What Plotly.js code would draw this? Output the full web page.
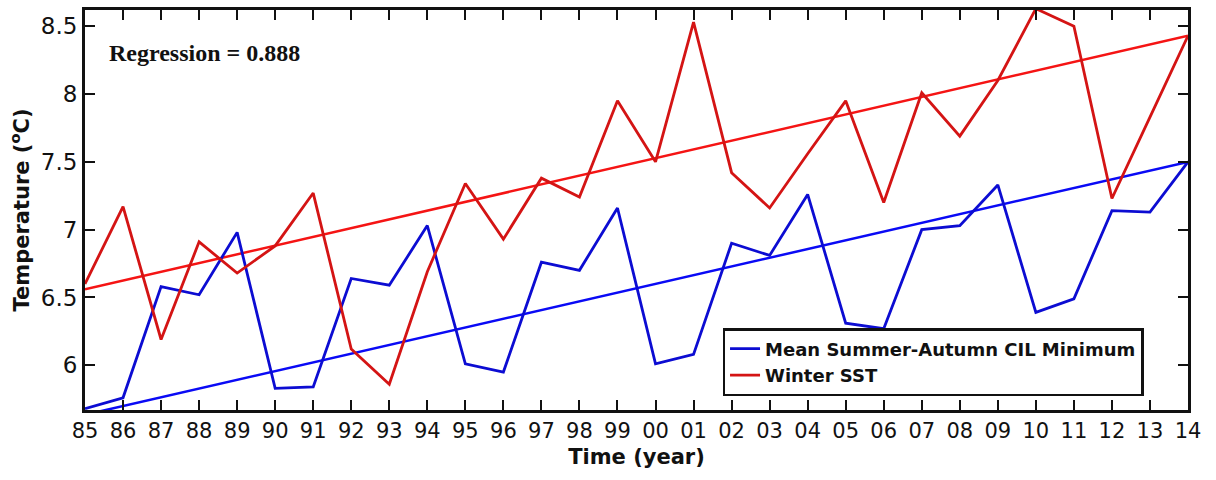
<!DOCTYPE html>
<html>
<head>
<meta charset="utf-8">
<script src="https://cdn.plot.ly/plotly-3.0.1.min.js"></script>
<style>html,body{margin:0;padding:0;background:#fff;}#chart{width:1216px;height:480px;}</style>
</head>
<body>
<div id="chart"></div>
<script>
const years = [1985,1986,1987,1988,1989,1990,1991,1992,1993,1994,1995,1996,1997,1998,1999,2000,2001,2002,2003,2004,2005,2006,2007,2008,2009,2010,2011,2012,2013,2014];
const yearLabels = ["85","86","87","88","89","90","91","92","93","94","95","96","97","98","99","00","01","02","03","04","05","06","07","08","09","10","11","12","13","14"];
const cilMin = [5.68,5.76,6.58,6.52,6.98,5.83,5.84,6.64,6.59,7.03,6.01,5.95,6.76,6.70,7.16,6.01,6.08,6.90,6.81,7.26,6.31,6.27,7.00,7.03,7.33,6.39,6.49,7.14,7.13,7.50];
const winterSST = [6.60,7.17,6.19,6.91,6.68,6.88,7.27,6.12,5.86,6.69,7.34,6.93,7.38,7.24,7.95,7.50,8.53,7.42,7.16,7.56,7.95,7.20,8.01,7.69,8.10,8.63,8.50,7.23,7.83,8.43];
const trendYears = [1985, 2014];
const trendCIL = [5.635, 7.50];
const trendSST = [6.56, 8.43];
const yTicks = [6, 6.5, 7, 7.5, 8, 8.5];
const yTickLabels = ["6","6.5","7","7.5","8","8.5"];
const seriesNames = ["Mean Summer-Autumn CIL Minimum", "Winter SST"];
const regressionText = "Regression = 0.888";

const traces = [
  {x: trendYears, y: trendCIL, mode: 'lines', line: {color: '#0a0af5', width: 2.5}, showlegend: false, hoverinfo: 'skip'},
  {x: trendYears, y: trendSST, mode: 'lines', line: {color: '#f51414', width: 2.5}, showlegend: false, hoverinfo: 'skip'},
  {x: years, y: cilMin, name: seriesNames[0], mode: 'lines', line: {color: '#0c0cd2', width: 2.8}},
  {x: years, y: winterSST, name: seriesNames[1], mode: 'lines', line: {color: '#d41414', width: 2.8}}
];

const layout = {
  width: 1216, height: 480,
  margin: {l: 85, r: 28, t: 10, b: 70},
  paper_bgcolor: '#fff', plot_bgcolor: '#fff',
  font: {family: 'DejaVu Sans, sans-serif', color: '#111'},
  xaxis: {
    range: [1985, 2014], tickvals: years, ticktext: yearLabels,
    ticks: 'inside', ticklen: 10, tickwidth: 2, tickcolor: '#111',
    showline: true, linecolor: '#111', linewidth: 3, mirror: 'ticks',
    showgrid: false, zeroline: false,
    tickfont: {size: 21, family: 'DejaVu Sans, sans-serif', color: '#111'},
    title: {text: 'Time (year)', font: {size: 21, family: 'DejaVu Sans, sans-serif', weight: 'bold', color: '#111'}, standoff: 8}
  },
  yaxis: {
    range: [5.67, 8.62], tickvals: yTicks, ticktext: yTickLabels,
    ticks: 'inside', ticklen: 10, tickwidth: 2, tickcolor: '#111',
    showline: true, linecolor: '#111', linewidth: 3, mirror: 'ticks',
    showgrid: false, zeroline: false,
    tickfont: {size: 23, family: 'DejaVu Sans, sans-serif', color: '#111'},
    title: {text: 'Temperature (<sup>o</sup>C)', font: {size: 21, family: 'DejaVu Sans, sans-serif', weight: 'bold', color: '#111'}, standoff: 6}
  },
  legend: {
    x: 0.578, y: 0.035, xanchor: 'left', yanchor: 'bottom',
    bordercolor: '#111', borderwidth: 2.5, bgcolor: '#fff',
    font: {size: 18, family: 'DejaVu Sans, sans-serif', weight: 'bold', color: '#111'},
    tracegroupgap: 0, itemwidth: 30
  },
  annotations: [{
    text: '<b>' + regressionText + '</b>', xref: 'paper', yref: 'paper',
    x: 0.02, y: 0.892, xanchor: 'left', yanchor: 'middle', showarrow: false,
    font: {size: 24, family: 'Liberation Serif, Times New Roman, serif', color: '#111'}
  }]
};

Plotly.newPlot('chart', traces, layout, {displayModeBar: false, staticPlot: true});
</script>
</body>
</html>
